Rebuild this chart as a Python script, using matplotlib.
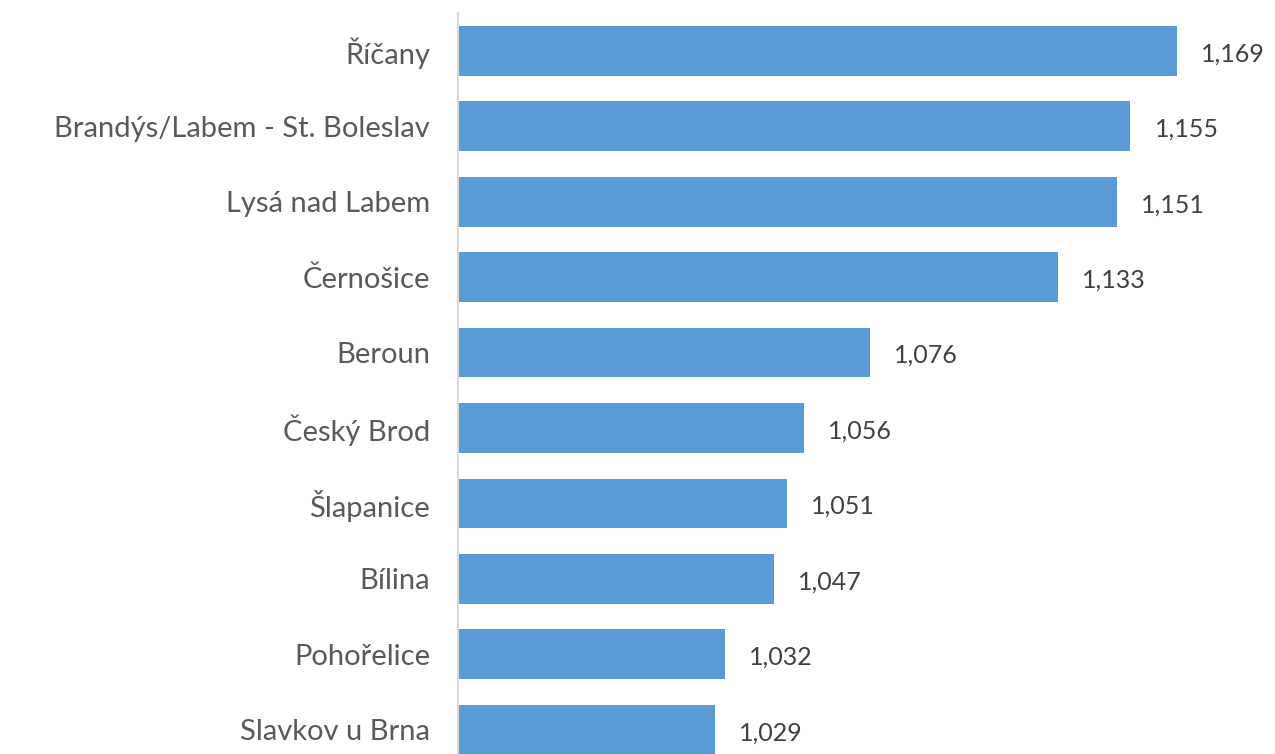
import matplotlib
matplotlib.use("Agg")
import matplotlib.pyplot as plt

# data
towns = ["Říčany", "Brandýs/Labem - St. Boleslav", "Lysá nad Labem", "Černošice",
         "Beroun", "Český Brod", "Šlapanice", "Bílina", "Pohořelice", "Slavkov u Brna"]
values = [1.169, 1.155, 1.151, 1.133, 1.076, 1.056, 1.051, 1.047, 1.032, 1.029]

plt.rcParams['font.family'] = ['Lato', 'DejaVu Sans']

W, H = 1275, 754
fig = plt.figure(figsize=(W / 100, H / 100), dpi=100)
ax = fig.add_axes([458 / W, 0, 817 / W, (H - 13) / H])

pos = list(range(len(towns)))
ax.barh(pos, values, height=0.66, left=0, color="#5B9BD5", zorder=2)

ax.set_xlim(0.9512, 1.1988)
ax.set_ylim(9.32, -0.5)

ax.set_yticks(pos)
ax.set_yticklabels(towns, fontsize=21, color="#595959")
ax.tick_params(axis="y", length=0, pad=20)
ax.set_xticks([])

for s in ["top", "right", "bottom"]:
    ax.spines[s].set_visible(False)
ax.spines["left"].set_color("#D9D9D9")
ax.spines["left"].set_linewidth(1.5)

for p, v in zip(pos, values):
    ax.annotate(f"{v:.3f}".replace(".", ","), xy=(v, p), xytext=(24, -3),
                textcoords="offset pixels", va="center", ha="left",
                fontsize=18, color="#404040")

fig.savefig("out.png", dpi=100)
